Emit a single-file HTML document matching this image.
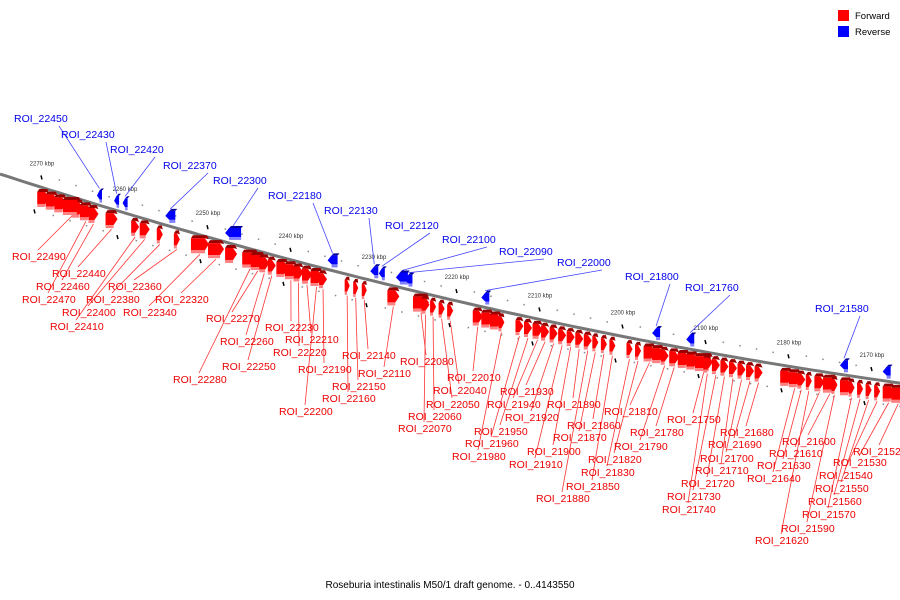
<!DOCTYPE html>
<html><head><meta charset="utf-8"><style>
html,body{margin:0;padding:0;background:#fff;}
svg{display:block;font-family:"Liberation Sans",sans-serif;}
</style></head><body>
<svg id="chart" width="900" height="600" viewBox="0 0 900 600">
<g id="grid"></g>
<path id="backbone" fill="none" stroke="#777" stroke-width="3"/>
<g id="leaders"></g>
<g id="genes"></g>
<g id="labels"></g>
<g>
<rect x="838" y="10" width="11" height="11" fill="#f00"/>
<text x="855" y="19" font-size="9.5">Forward</text>
<rect x="838" y="26" width="11" height="11" fill="#00f"/>
<text x="855" y="35" font-size="9.5">Reverse</text>
</g>
<text x="450" y="588" font-size="10" text-anchor="middle">Roseburia intestinalis M50/1 draft genome. - 0..4143550</text>
</svg>
<script>
// scale ticks (kbp)
const tickKbp=[2270,2260,2250,2240,2230,2220,2210,2200,2190,2180,2170];
// forward (red) labelled genes: ROI ids
const fwdIds=[22490,22470,22460,22440,22410,22400,22380,22360,22340,22320,22280,22270,22260,22250,22230,22220,22210,22200,22190,22160,22150,22140,22110,22080,22070,22060,22050,22040,22010,21980,21960,21950,21940,21930,21920,21910,21900,21890,21880,21870,21860,21850,21830,21820,21810,21790,21780,21750,21740,21730,21720,21710,21700,21690,21680,21640,21630,21620,21610,21600,21590,21570,21560,21550,21540,21530,21520];
const fwdWidths=[18,12,10,12,8,10,6,6,18,16,16,14,10,8,12,10,10,12,8,5,5,5,12,16,8,6,6,6,10,6,8,8,10,8,8,8,8,8,8,6,6,6,6,6,12,8,10,18,8,8,8,8,8,8,8,12,8,6,10,14,6,6,6,6,6,12,14];
// extra unlabelled forward genes (ROI-equivalent positions)
const fwdExtra=[22500,22510,22520,22480,22300,22240,22000,21990,21800,21770,21760,21650,21580,21510];
// reverse (blue) labelled genes
const revIds=[22450,22430,22420,22370,22300,22180,22130,22120,22100,22090,22000,21800,21760,21580];
const revWidths=[5,5,5,10,16,10,8,6,12,8,8,8,8,8];
const revExtra=[21530];
// label layout (text left x, baseline y)
const fwdLabelPos=[[12,260],[22,303],[36,290],[52,277],[50,330],[62,316],[86,303],[108,290],[123,316],[155,303],[173,383],[206,322],[220,345],[222,370],[265,331],[273,356],[285,343],[279,415],[298,373],[322,402],[332,390],[342,359],[358,377],[400,365],[398,432],[408,420],[426,408],[433,394],[447,381],[452,460],[465,447],[474,435],[487,408],[500,395],[505,421],[509,468],[527,455],[547,408],[536,502],[553,441],[567,429],[566,490],[581,476],[588,463],[604,415],[614,450],[630,436],[667,423],[662,513],[667,500],[681,487],[695,474],[700,462],[708,448],[720,436],[747,482],[757,469],[755,544],[769,457],[782,445],[781,532],[802,518],[808,505],[815,492],[819,479],[833,466],[853,455]];
const revLabelPos=[[14,122],[61,138],[110,153],[163,169],[213,184],[268,199],[324,214],[385,229],[442,243],[499,255],[557,266],[625,280],[685,291],[815,312]];

const NS='http://www.w3.org/2000/svg';
function lineY(x){return 174+0.325*x-1.03e-4*x*x;}
function kbpX(k){return 42+(2270-k)*8.3;}
function roiX(n){return 97+(22450-n)*0.854;}
function mk(tag,attrs,parent){const e=document.createElementNS(NS,tag);for(const k in attrs)e.setAttribute(k,attrs[k]);parent.appendChild(e);return e;}

let d='';for(let x=0;x<=900;x+=10){d+=(x?'L':'M')+x+' '+lineY(x).toFixed(1);}
document.getElementById('backbone').setAttribute('d',d);

const grid=document.getElementById('grid');
tickKbp.forEach(k=>{
  const x=kbpX(k),y=lineY(x);
  const t=mk('text',{x:x,y:y-22,'font-size':6,'text-anchor':'middle',fill:'#333'},grid);t.textContent=k+' kbp';
  
  
  const m=mk('line',{x1:x-1,y1:y-12,x2:x,y2:y-8,stroke:'#000','stroke-width':1.5},grid);
  
  
  const m2=mk('line',{x1:x-8,y1:y+22,x2:x-7,y2:y+26,stroke:'#000','stroke-width':1.5},grid);
  
  
  for(let j=1;j<5;j++){const xx=kbpX(k-j*2);const c=mk('rect',{x:xx,y:lineY(xx)-14+j*0.5,width:1.5,height:1.5,fill:'#888'},grid);
    
    const c2=mk('rect',{x:xx-6,y:lineY(xx)+22,width:1.5,height:1.5,fill:'#888'},grid);
    }
});

const genesG=document.getElementById('genes');
function gene(x,w,fwd,name){
  const y=lineY(x);const g=mk('g',{},genesG);
  
  
  if(fwd){
    const t=y+3,h=12,tip=Math.min(4,w/2);
    mk('polygon',{points:`${x},${t+3} ${x+2},${t} ${x+w-tip+2},${t} ${x+w},${t+4} ${x+w-tip},${t+3}`,fill:'#900'},g);
    mk('polygon',{points:`${x},${t+3} ${x+w-tip},${t+3} ${x+w},${t+3+h/2} ${x+w-tip},${t+3+h} ${x},${t+3+h}`,fill:'#f00'},g);
    mk('rect',{x:x,y:t+3+h,width:w-tip,height:3,fill:'#ff8080'},g);
  }else{
    const b=y-2,h=12,tip=Math.min(4,w/2);
    mk('polygon',{points:`${x+tip},${b-h} ${x+w},${b-h} ${x+w},${b-3} ${x+tip},${b-3} ${x},${b-h/2-1}`,fill:'#00f'},g);
    mk('rect',{x:x+tip,y:b-3,width:w-tip,height:3,fill:'#8080ff'},g);
    mk('polygon',{points:`${x+tip},${b-h} ${x+tip+2},${b-h-2} ${x+w+2},${b-h-2} ${x+w},${b-h}`,fill:'#009'},g);
  }
}
fwdExtra.forEach(n=>gene(roiX(n),12,true,'gene-forward'));
revExtra.forEach(n=>gene(roiX(n),8,false,'gene-reverse'));
const leaders=document.getElementById('leaders'),labels=document.getElementById('labels');
fwdIds.forEach((n,i)=>{
  const x=roiX(n),w=fwdWidths[i];gene(x,w,true,'gene-roi-'+n);
  const [lx,ly]=fwdLabelPos[i];
  const l=mk('line',{x1:x+w/2,y1:lineY(x)+22,x2:lx+26,y2:ly-10,stroke:'#f33','stroke-width':0.8},leaders);
  
  
  const t=mk('text',{x:lx,y:ly,'font-size':10.5,fill:'#e00'},labels);t.textContent='ROI_'+n;
  
  
});
revIds.forEach((n,i)=>{
  const x=roiX(n),w=revWidths[i];gene(x,w,false,'gene-roi-'+n);
  const [lx,ly]=revLabelPos[i];
  const l=mk('line',{x1:lx+45,y1:ly+4,x2:x+w/2,y2:lineY(x)-16,stroke:'#44f','stroke-width':0.8},leaders);
  
  
  const t=mk('text',{x:lx,y:ly,'font-size':10.5,fill:'#00e'},labels);t.textContent='ROI_'+n;
  
  
});
</script>
</body></html>
